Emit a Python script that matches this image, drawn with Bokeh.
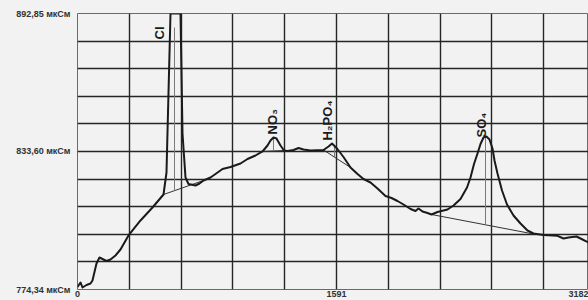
import numpy as np
from bokeh.plotting import figure
from bokeh.models import FixedTicker, ColumnDataSource
from bokeh.core.properties import value
from bokeh.embed import file_html
from bokeh.resources import INLINE

# ---- data (time, conductivity in µS) ----
time_pts = [0, 18.4, 30.7, 55.3, 79.9, 92.1, 116.7, 135.1, 159.7, 178.1,
            202.7, 233.4, 264.1, 313.3, 387.0, 460.7, 528.3, 546.7, 571.3, 632.7,
            645.0, 654.2, 663.4, 681.9, 724.9, 749.4, 774.0, 817.0, 847.7, 890.7,
            939.9, 1001.3, 1044.3, 1093.4, 1136.4, 1167.2, 1185.6, 1204.0, 1222.4, 1247.0,
            1268.5, 1290.0, 1326.9, 1357.6, 1388.3, 1431.3, 1511.2, 1541.9, 1563.4, 1594.1,
            1634.0, 1677.0, 1720.0, 1756.9, 1799.9, 1842.9, 1892.0, 1928.9, 1965.7, 2002.6,
            2045.6, 2076.3, 2094.7, 2119.3, 2150.0, 2174.6, 2211.4, 2272.9, 2309.7, 2352.7,
            2392.7, 2414.2, 2435.7, 2457.2, 2475.6, 2494.0, 2512.4, 2530.9, 2549.3, 2561.6,
            2580.0, 2607.7, 2638.4, 2678.3, 2721.3, 2764.3, 2801.2, 2862.6, 2948.6, 2985.5,
            3016.2, 3065.3, 3102.2, 3139.0]
conductivity = [775.41, 777.35, 775.20, 776.27, 776.92, 778.21, 785.50, 788.08, 787.22, 786.58,
                787.22, 788.94, 791.52, 797.53, 803.97, 809.55, 815.13, 824.58, 892.85, 892.85,
                841.32, 831.88, 822.43, 819.64, 819.00, 819.86, 821.14, 822.43, 823.93, 826.08,
                826.94, 828.44, 830.37, 831.88, 833.60, 836.17, 838.32, 839.61, 839.18, 836.17,
                834.02, 833.81, 834.24, 835.10, 834.45, 834.02, 834.24, 835.74, 837.03, 834.88,
                831.23, 826.73, 823.93, 821.79, 820.28, 817.71, 814.49, 813.63, 812.34, 810.84,
                808.91, 808.05, 809.12, 807.83, 807.19, 806.54, 807.62, 808.69, 810.41, 813.20,
                818.14, 822.43, 828.23, 832.74, 836.82, 839.61, 840.04, 838.75, 834.88, 829.73,
                824.15, 816.85, 810.84, 806.12, 802.68, 799.68, 798.39, 797.74, 797.40, 796.24,
                796.67, 797.10, 795.81, 794.52]

# peak baselines (start/end)
base_x0 = [528.3, 1136.4, 1511.2, 2174.6]
base_x1 = [774.0, 1268.5, 1677.0, 2801.2]
base_y0 = [815.13, 833.60, 834.24, 806.54]
base_y1 = [821.14, 834.02, 826.73, 798.17]

# peak drop lines
drop_x = [595.9, 1204.0, 1578.7, 2506.3]
drop_top = [886.84, 839.61, 836.20, 839.82]
drop_bottom = [816.78, 834.02, 831.20, 802.12]

# peak names
peak_names = ["Cl", "NO\u2083", "H\u2082PO\u2084", "SO\u2084"]
peak_label_x = [503.7, 1198.0, 1535.7, 2481.8]
peak_label_y = [881.7, 840.9, 838.3, 839.6]

# axes
x_ticks = [0, 1591, 3182]
x_tick_labels = ["0", "1591", "3182"]
y_ticks = [774.34, 833.60, 892.85]
y_tick_labels = ["774,34 мкСм", "833,60 мкСм", "892,85 мкСм"]
x_step = 318.2
y_step = 11.851

X_END = 3139.0
# the last tick (3182) lies just past the visible edge; its label is shown
# pulled in so that it stays readable inside the picture
LAST_LABEL_POS = X_END - 10 * (X_END / 511.0)
BG = "#f2f2f2"
FONT = "Liberation Sans"

p = figure(width=588, height=300, output_backend="svg", toolbar_location=None,
           x_range=(0, X_END), y_range=(y_ticks[0], y_ticks[-1]),
           min_border_left=77, min_border_right=0, min_border_top=13, min_border_bottom=11)
p.background_fill_color = BG
p.border_fill_color = BG
p.outline_line_color = "#6a6a6a"
p.outline_line_width = 1

# grid
p.xgrid.ticker = FixedTicker(ticks=[i * x_step for i in range(11)])
p.ygrid.ticker = FixedTicker(ticks=[y_ticks[0] + i * y_step for i in range(11)])
for g in (p.xgrid[0], p.ygrid[0]):
    g.grid_line_color = "#262626"
    g.grid_line_width = 1.4
    g.grid_line_alpha = 1.0

# axes
for ax in (p.xaxis[0], p.yaxis[0]):
    ax.axis_line_color = None
    ax.major_tick_line_color = None
    ax.minor_tick_line_color = None
    ax.major_tick_in = 0
    ax.major_tick_out = 0
    ax.major_label_text_font = FONT
    ax.major_label_text_font_style = "bold"
    ax.major_label_text_font_size = "9px"
    ax.major_label_text_color = "#333333"
x_tick_pos = x_ticks[:-1] + [LAST_LABEL_POS]
p.xaxis.ticker = FixedTicker(ticks=x_tick_pos)
p.xaxis.major_label_overrides = {t: l for t, l in zip(x_tick_pos, x_tick_labels)}
p.xaxis.major_label_standoff = 1
p.yaxis.ticker = FixedTicker(ticks=y_ticks)
p.yaxis.major_label_overrides = {t: l for t, l in zip(y_ticks, y_tick_labels)}
p.yaxis.major_label_standoff = 7

# baselines and drop lines
p.segment(x0=base_x0, y0=base_y0, x1=base_x1, y1=base_y1, line_color="#333333", line_width=1)
p.segment(x0=drop_x, y0=drop_top, x1=drop_x, y1=drop_bottom, line_color="#7a7a7a", line_width=1)

# chromatogram
p.line(time_pts, conductivity, line_color="#1a1a1a", line_width=2, line_join="round")

# peak labels
src = ColumnDataSource(dict(x=peak_label_x, y=peak_label_y, t=peak_names))
p.text(x="x", y="y", text="t", source=src, angle=np.pi / 2, text_align="left",
       text_baseline="middle", text_font=value(FONT), text_font_style="bold",
       text_font_size="13px", text_color="#1a1a1a")

html = file_html(p, INLINE)
html = html.replace("<head>", "<head><style>body{background:#f2f2f2;}</style>", 1)
open("out.html", "w").write(html)
